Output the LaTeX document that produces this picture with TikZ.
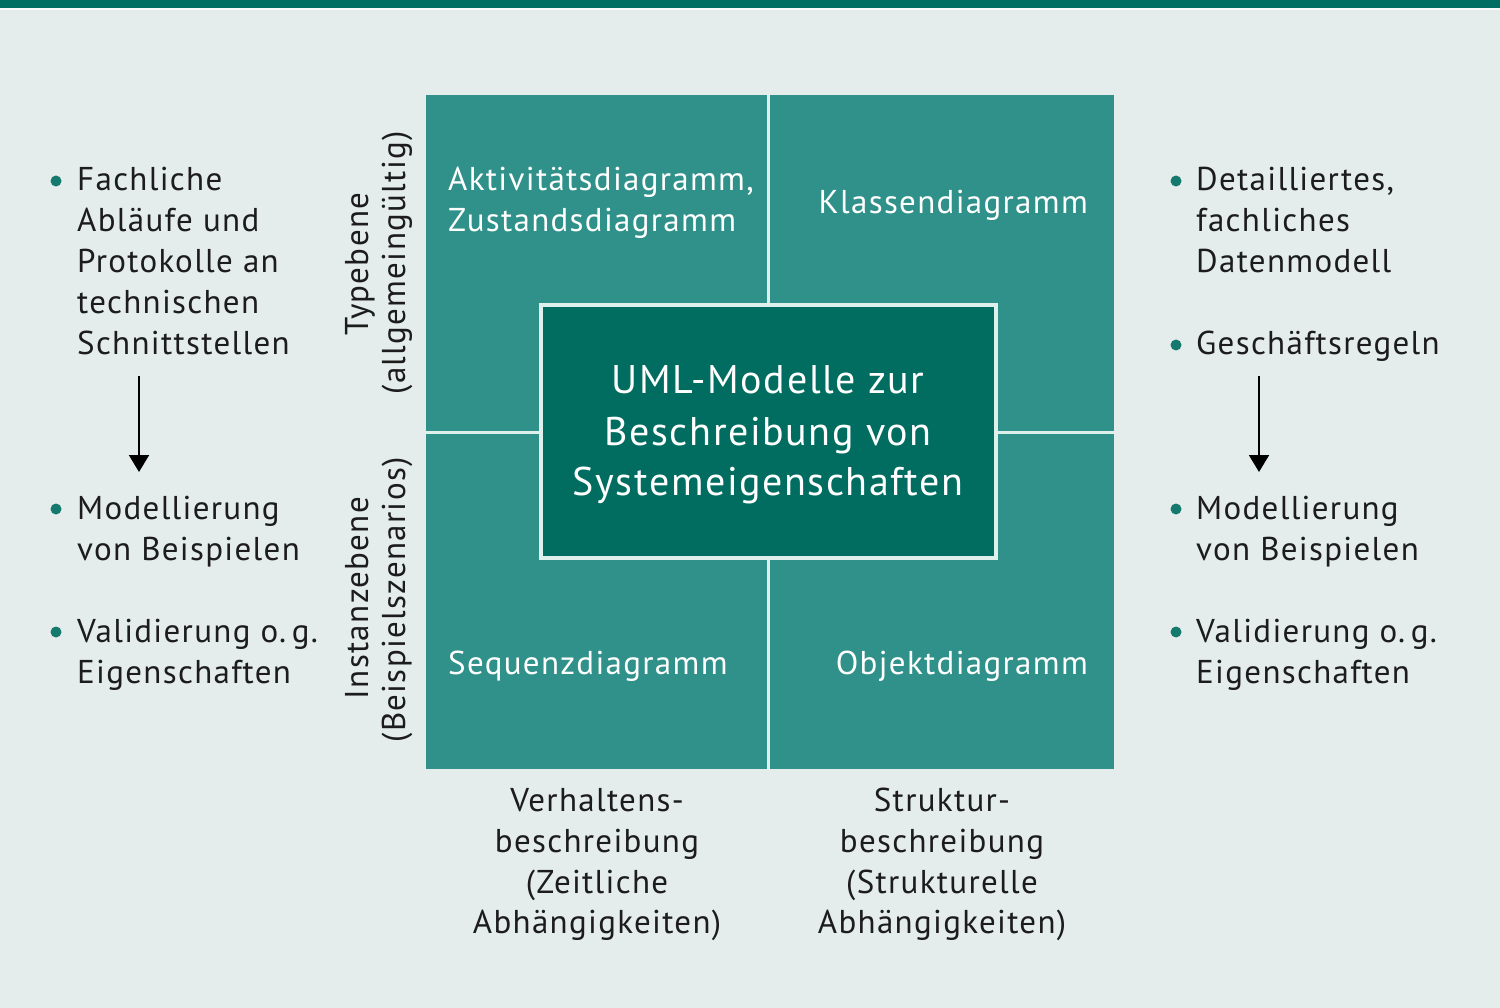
\documentclass[tikz,border=0pt]{standalone}
\usepackage{fontspec}
\setmainfont{PT Sans}[LetterSpace=4]
\usetikzlibrary{arrows.meta}
\definecolor{band}{HTML}{006E62}
\definecolor{bgc}{HTML}{E4EDEB}
\definecolor{quadc}{HTML}{2F9189}
\definecolor{centc}{HTML}{016D60}
\definecolor{gapc}{HTML}{DDF0EC}
\definecolor{txt}{HTML}{1C1C1C}
\definecolor{bul}{HTML}{137A6D}
\begin{document}
\begin{tikzpicture}[x=1pt,y=-1pt,
  quad/.style={fill=quadc,draw=none,inner sep=0pt,anchor=north west},
  side/.style={font=\fontsize{33}{41}\selectfont,text=txt,inner sep=0pt,anchor=base west},
  qtext/.style={font=\fontsize{33}{41}\selectfont,text=white,inner sep=0pt},
  rot/.style={font=\fontsize{33}{41}\selectfont,text=txt,inner sep=0pt,rotate=90,anchor=base},
  bottom/.style={font=\fontsize{33}{41}\selectfont,text=txt,inner sep=0pt,anchor=base},
  dot/.style={circle,fill=bul,inner sep=0pt,minimum size=11pt},
  arr/.style={draw=black,line width=2pt,-{Triangle[width=20pt,length=17pt]}}]
\useasboundingbox (0,0) rectangle (1500,1008);
\fill[bgc] (0,0) rectangle (1500,1008);
\fill[band] (0,0) rectangle (1500,8);
\fill[white!70!bgc] (0,8) rectangle (1500,10);
% quadrants
\fill[gapc] (426,95) rectangle (1114,769);
\node[quad,minimum width=341pt,minimum height=336pt] (qtl) at (426,95) {};
\node[quad,minimum width=344pt,minimum height=336pt] (qtr) at (770,95) {};
\node[quad,minimum width=341pt,minimum height=335pt] (qbl) at (426,434) {};
\node[quad,minimum width=344pt,minimum height=335pt] (qbr) at (770,434) {};
% quadrant texts
\node[qtext,anchor=base west] (t1) at (448,191) {Aktivitätsdiagramm,};
\node[qtext,anchor=base west] (t2) at (448,232) {Zustandsdiagramm};
\node[qtext,anchor=base east] (t3) at (1088,214) {Klassendiagramm};
\node[qtext,anchor=base west] (t4) at (448,674) {Sequenzdiagramm};
\node[qtext,anchor=base east] (t5) at (1088,674) {Objektdiagramm};
% center box
\node[fill=centc,draw=gapc,line width=4pt,minimum width=455pt,minimum height=253pt,inner sep=0pt] (center) at (768.5,431.5) {};
\node[font=\fontsize{40}{50}\selectfont,text=white,inner sep=0pt,anchor=base] (c1) at (768,394) {UML-Modelle zur};
\node[font=\fontsize{40}{50}\selectfont,text=white,inner sep=0pt,anchor=base] (c2) at (768,445) {Beschreibung von};
\node[font=\fontsize{40}{50}\selectfont,text=white,inner sep=0pt,anchor=base] (c3) at (768,495) {Systemeigenschaften};
% rotated labels
\node[rot] (r1) at (368,264) {Typebene};
\node[rot] (r2) at (405,263) {(allgemeingültig)};
\node[rot] (r3) at (368,598) {Instanzebene};
\node[rot] (r4) at (405,600) {(Beispielszenarios)};
% left column
\node[dot] (lb1) at (56,181) {};
\node[side] (l1) at (77,191) {Fachliche};
\node[side] (l2) at (77,232) {Abläufe und};
\node[side] (l3) at (77,273) {Protokolle an};
\node[side] (l4) at (77,314) {technischen};
\node[side] (l5) at (77,355) {Schnittstellen};
\coordinate (la1) at (139,376);
\coordinate (la2) at (139,472);
\draw[arr] (la1) -- (la2);
\node[dot] (lb2) at (56,509) {};
\node[side] (l6) at (77,519) {Modellierung};
\node[side] (l7) at (77,560) {von Beispielen};
\node[dot] (lb3) at (56,632) {};
\node[side] (l8) at (77,642) {Validierung o.\,g.};
\node[side] (l9) at (77,683) {Eigenschaften};
% right column
\node[dot] (rb1) at (1176,181) {};
\node[side] (m1) at (1196,191) {Detailliertes,};
\node[side] (m2) at (1196,232) {fachliches};
\node[side] (m3) at (1196,273) {Datenmodell};
\node[dot] (rb2) at (1176,345) {};
\node[side] (m4) at (1196,355) {Geschäftsregeln};
\coordinate (ra1) at (1259,376);
\coordinate (ra2) at (1259,472);
\draw[arr] (ra1) -- (ra2);
\node[dot] (rb3) at (1176,509) {};
\node[side] (m5) at (1196,519) {Modellierung};
\node[side] (m6) at (1196,560) {von Beispielen};
\node[dot] (rb4) at (1176,632) {};
\node[side] (m7) at (1196,642) {Validierung o.\,g.};
\node[side] (m8) at (1196,683) {Eigenschaften};
% bottom labels
\node[bottom] (b1) at (597,811) {Verhaltens-};
\node[bottom] (b2) at (597,852) {beschreibung};
\node[bottom] (b3) at (597,893) {(Zeitliche};
\node[bottom] (b4) at (597,933) {Abhängigkeiten)};
\node[bottom] (b5) at (942,811) {Struktur-};
\node[bottom] (b6) at (942,852) {beschreibung};
\node[bottom] (b7) at (942,893) {(Strukturelle};
\node[bottom] (b8) at (942,933) {Abhängigkeiten)};
\end{tikzpicture}
\end{document}
